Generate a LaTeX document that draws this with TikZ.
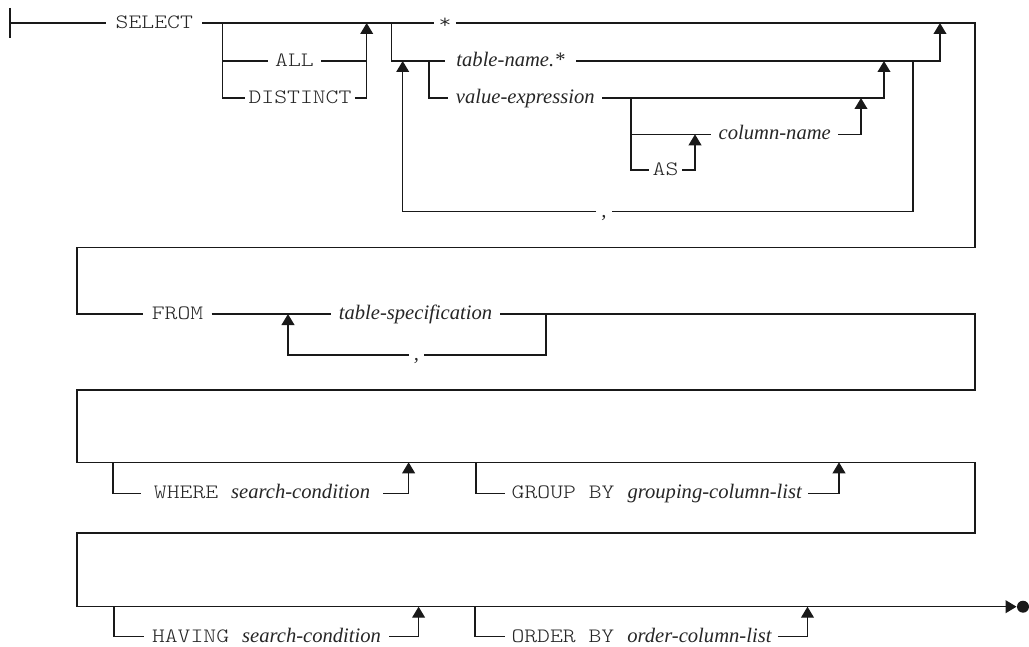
\documentclass[tikz,border=0pt]{standalone}
\usepackage{fontspec}
\usetikzlibrary{arrows.meta, positioning, calc}
\newfontfamily\railmono{lmmonolt10-regular.otf}[FakeStretch=1.2]
\newfontfamily\railserif{Liberation Serif}
\newcommand{\kw}[1]{{\fontsize{10.2pt}{12pt}\railmono #1}}
\newcommand{\nt}[1]{{\fontsize{10.3pt}{12pt}\railserif\itshape #1}}

\begin{document}
\begin{tikzpicture}[x=0.5pt, y=-0.5pt,
    rail/.style={line width=0.7pt, draw=black!90},
    word/.style={text=black!85, text height=5.5pt, text depth=0pt, inner xsep=3.5pt, inner ysep=1pt},
    mergearrow/.style={rail, -{Triangle[length=5.5pt, width=6.4pt]}}]
    \useasboundingbox (0,0) rectangle (1029,647);

    \coordinate (start) at (10,23);
    \node[word, inner xsep=4.5pt] (select) at (154.3,23) {\kw{SELECT}};
    \node[word] (all) at (294.5,61) {\kw{ALL}};
    \node[word, inner xsep=1.5pt] (distinct) at (300,98) {\kw{DISTINCT}};
    \node[word, inner xsep=2pt] (star) at (445,23) {\kw{*}};
    \node[word, inner xsep=5.7pt] (tname) at (510.5,61) {\nt{table-name.*}};
    \node[word] (vexpr) at (525.3,98) {\nt{value-expression}};
    \node[word] (colname) at (774.8,134.3) {\nt{column-name}};
    \node[word, inner xsep=1.8pt] (as) at (665.5,170) {\kw{AS}};
    \node[word, inner xsep=2.5pt] (comma1) at (604,211.7) {\nt{,}};

    \node[word, inner xsep=4pt] (from) at (177.5,314) {\kw{FROM}};
    \node[word, inner xsep=3.8pt] (tspec) at (415.5,314) {\nt{table-specification}};
    \node[word, inner xsep=2.5pt] (comma2) at (416.5,355) {\nt{,}};

    \node[word, inner xsep=6.5pt] (where) at (262,493.3) {\kw{WHERE}\hspace{6.5pt}\nt{search-condition}};
    \node[word, inner xsep=3pt] (groupby) at (656.8,493.3) {\kw{GROUP BY}\hspace{6.5pt}\nt{grouping-column-list}};
    \node[word, inner xsep=4pt] (having) at (266.5,636.7) {\kw{HAVING}\hspace{6.5pt}\nt{search-condition}};
    \node[word, inner xsep=3pt] (orderby) at (641.5,636.7) {\kw{ORDER BY}\hspace{6.5pt}\nt{order-column-list}};
    \node[circle, fill=black!90, inner sep=0pt, minimum size=6pt] (stop) at (1023,606.7) {};

    \coordinate (selsplit) at (222.7,23);
    \coordinate (seljoin) at (366.7,23);
    \coordinate (colsplit) at (391.7,23);
    \coordinate (coljoin) at (940,23);
    \coordinate (loopjoin) at (402.7,61);
    \coordinate (vesplit) at (429,61);
    \coordinate (vejoin) at (884,61);
    \coordinate (loopsplit) at (913,61);
    \coordinate (cnsplit) at (631,98);
    \coordinate (cnjoin) at (861,98);
    \coordinate (asjoin) at (695,134.3);
    \coordinate (r1end) at (975,23);
    \coordinate (r2in) at (77,247.7);
    \coordinate (tsjoin) at (288,314);
    \coordinate (tssplit) at (546,314);
    \coordinate (r2end) at (975,314);
    \coordinate (r3in) at (77,390);
    \coordinate (r3end) at (975,462.3);
    \coordinate (whsplit) at (113,462.3);
    \coordinate (whjoin) at (408.6,462.3);
    \coordinate (gbsplit) at (476,462.3);
    \coordinate (gbjoin) at (839,462.3);
    \coordinate (r4in) at (77,533);
    \coordinate (hvsplit) at (114,606.7);
    \coordinate (hvjoin) at (418.6,606.7);
    \coordinate (obsplit) at (475,606.7);
    \coordinate (objoin) at (807.5,606.7);

    \draw[rail] ([yshift=7.5pt]start) -- ([yshift=-7.5pt]start);
    \draw[mergearrow] (start) -- (select) -- (star) -- (r1end) |- (r2in) |- (from) -- (tspec)
        -- (r2end) |- (r3in) |- (r3end) |- (r4in) |- (stop);

    \draw[rail] (selsplit) |- (all) -- (all -| seljoin);
    \foreach \s/\n/\j in {selsplit/distinct/seljoin, colsplit/tname/coljoin, vesplit/vexpr/vejoin,
        cnsplit/colname/cnjoin, cnsplit/as/asjoin, loopsplit/comma1/loopjoin, tssplit/comma2/tsjoin,
        whsplit/where/whjoin, gbsplit/groupby/gbjoin, hvsplit/having/hvjoin, obsplit/orderby/objoin}
        \draw[mergearrow] (\s) |- (\n) -| (\j);
\end{tikzpicture}
\end{document}
